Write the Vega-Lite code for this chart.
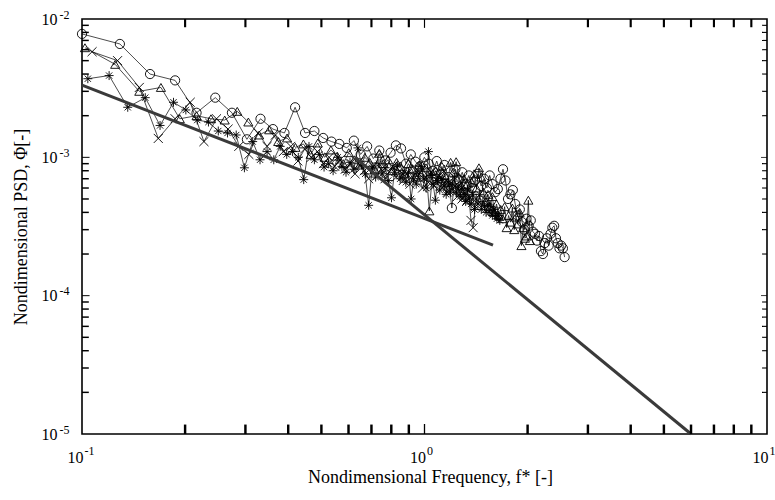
{
 "$schema": "https://vega.github.io/schema/vega-lite/v6.json",
 "width": 685, "height": 415,
 "autosize": {"type": "none"},
 "padding": {"left": 82, "top": 19, "right": 8, "bottom": 66},
 "background": "white",
 "config": {
  "view": {"stroke": "black", "strokeWidth": 1.6},
  "font": "Liberation Serif",
  "axis": {"domain": false, "ticks": false, "tickSize": 0, "grid": false, "labelColor": "black", "titleColor": "black", "labelFont": "Liberation Serif", "titleFont": "Liberation Serif", "titleFontWeight": "normal", "labelFontSize": 16, "titleFontSize": 18, "labelFlush": false, "labelOverlap": false}
 },
 "datasets": {
  "pts": [
   {"s":"o","f":0.100,"p":7.8e-3},{"s":"o","f":0.129,"p":6.6e-3},{"s":"o","f":0.158,"p":4.0e-3},{"s":"o","f":0.187,"p":3.6e-3},{"s":"o","f":0.216,"p":2.1e-3},{"s":"o","f":0.245,"p":2.7e-3},{"s":"o","f":0.274,"p":2.1e-3},{"s":"o","f":0.303,"p":1.35e-3},{"s":"o","f":0.332,"p":1.9e-3},{"s":"o","f":0.361,"p":1.6e-3},{"s":"o","f":0.390,"p":1.5e-3},{"s":"o","f":0.419,"p":2.3e-3},{"s":"o","f":0.448,"p":1.5e-3},{"s":"o","f":0.477,"p":1.55e-3},{"s":"o","f":0.506,"p":1.38e-3},{"s":"o","f":0.535,"p":1.3e-3},{"s":"o","f":0.564,"p":1.25e-3},{"s":"o","f":0.593,"p":1.17e-3},{"s":"o","f":0.622,"p":1.32e-3},{"s":"o","f":0.651,"p":1.05e-3},{"s":"o","f":0.680,"p":1.2e-3},{"s":"o","f":0.709,"p":9.8e-4},{"s":"o","f":0.738,"p":1.12e-3},{"s":"o","f":0.767,"p":9.5e-4},{"s":"o","f":0.796,"p":1.08e-3},{"s":"o","f":0.825,"p":1.22e-3},{"s":"o","f":0.854,"p":1.16e-3},{"s":"o","f":0.883,"p":9.0e-4},{"s":"o","f":0.912,"p":1.05e-3},{"s":"o","f":0.941,"p":9.3e-4},{"s":"o","f":0.970,"p":8.6e-4},{"s":"o","f":0.999,"p":1.0e-3},{"s":"o","f":1.028,"p":9.0e-4},{"s":"o","f":1.057,"p":8.0e-4},{"s":"o","f":1.086,"p":9.4e-4},{"s":"o","f":1.115,"p":7.6e-4},{"s":"o","f":1.144,"p":8.8e-4},{"s":"o","f":1.173,"p":7.2e-4},{"s":"o","f":1.202,"p":4.3e-4},{"s":"o","f":1.231,"p":8.2e-4},{"s":"o","f":1.260,"p":6.9e-4},{"s":"o","f":1.289,"p":7.8e-4},{"s":"o","f":1.318,"p":6.4e-4},{"s":"o","f":1.347,"p":7.4e-4},{"s":"o","f":1.376,"p":6.0e-4},{"s":"o","f":1.405,"p":6.8e-4},{"s":"o","f":1.434,"p":7.6e-4},{"s":"o","f":1.463,"p":6.2e-4},{"s":"o","f":1.492,"p":7.0e-4},{"s":"o","f":1.521,"p":6.0e-4},{"s":"o","f":1.550,"p":7.4e-4},{"s":"o","f":1.579,"p":6.4e-4},{"s":"o","f":1.608,"p":5.6e-4},{"s":"o","f":1.637,"p":5.9e-4},{"s":"o","f":1.666,"p":7.0e-4},{"s":"o","f":1.695,"p":8.2e-4},{"s":"o","f":1.724,"p":6.8e-4},{"s":"o","f":1.753,"p":5.0e-4},{"s":"o","f":1.782,"p":5.4e-4},{"s":"o","f":1.811,"p":5.8e-4},{"s":"o","f":1.840,"p":4.6e-4},{"s":"o","f":1.869,"p":3.8e-4},{"s":"o","f":1.898,"p":4.2e-4},{"s":"o","f":1.927,"p":3.4e-4},{"s":"o","f":1.956,"p":3.0e-4},{"s":"o","f":1.985,"p":3.6e-4},{"s":"o","f":2.014,"p":3.2e-4},{"s":"o","f":2.043,"p":3.5e-4},{"s":"o","f":2.072,"p":2.9e-4},{"s":"o","f":2.101,"p":2.8e-4},{"s":"o","f":2.130,"p":2.5e-4},{"s":"o","f":2.159,"p":2.7e-4},{"s":"o","f":2.188,"p":2.1e-4},{"s":"o","f":2.217,"p":2.0e-4},{"s":"o","f":2.246,"p":2.4e-4},{"s":"o","f":2.275,"p":2.6e-4},{"s":"o","f":2.304,"p":2.3e-4},{"s":"o","f":2.333,"p":2.8e-4},{"s":"o","f":2.362,"p":3.1e-4},{"s":"o","f":2.391,"p":3.2e-4},{"s":"o","f":2.420,"p":2.6e-4},{"s":"o","f":2.449,"p":2.4e-4},{"s":"o","f":2.478,"p":2.2e-4},{"s":"o","f":2.507,"p":2.3e-4},{"s":"o","f":2.536,"p":2.2e-4},{"s":"o","f":2.565,"p":1.9e-4},
   {"s":"t","f":0.102,"p":6.2e-3},{"s":"t","f":0.125,"p":4.7e-3},{"s":"t","f":0.147,"p":3.0e-3},{"s":"t","f":0.170,"p":3.2e-3},{"s":"t","f":0.193,"p":1.9e-3},{"s":"t","f":0.216,"p":2.0e-3},{"s":"t","f":0.238,"p":1.9e-3},{"s":"t","f":0.261,"p":1.86e-3},{"s":"t","f":0.284,"p":2.15e-3},{"s":"t","f":0.306,"p":1.8e-3},{"s":"t","f":0.329,"p":1.45e-3},{"s":"t","f":0.352,"p":1.58e-3},{"s":"t","f":0.374,"p":1.3e-3},{"s":"t","f":0.397,"p":1.38e-3},{"s":"t","f":0.420,"p":1.18e-3},{"s":"t","f":0.443,"p":1.25e-3},{"s":"t","f":0.465,"p":1.05e-3},{"s":"t","f":0.488,"p":1.27e-3},{"s":"t","f":0.511,"p":1.0e-3},{"s":"t","f":0.533,"p":1.13e-3},{"s":"t","f":0.556,"p":1.02e-3},{"s":"t","f":0.579,"p":9.0e-4},{"s":"t","f":0.601,"p":1.08e-3},{"s":"t","f":0.624,"p":9.6e-4},{"s":"t","f":0.647,"p":8.8e-4},{"s":"t","f":0.670,"p":1.0e-3},{"s":"t","f":0.692,"p":9.2e-4},{"s":"t","f":0.715,"p":8.2e-4},{"s":"t","f":0.738,"p":1.07e-3},{"s":"t","f":0.760,"p":9.0e-4},{"s":"t","f":0.783,"p":9.6e-4},{"s":"t","f":0.806,"p":8.0e-4},{"s":"t","f":0.829,"p":9.2e-4},{"s":"t","f":0.851,"p":8.6e-4},{"s":"t","f":0.874,"p":7.6e-4},{"s":"t","f":0.897,"p":9.0e-4},{"s":"t","f":0.919,"p":8.2e-4},{"s":"t","f":0.942,"p":7.2e-4},{"s":"t","f":0.965,"p":8.8e-4},{"s":"t","f":0.987,"p":7.8e-4},{"s":"t","f":1.010,"p":8.4e-4},{"s":"t","f":1.033,"p":4.1e-4},{"s":"t","f":1.055,"p":7.6e-4},{"s":"t","f":1.078,"p":8.0e-4},{"s":"t","f":1.101,"p":7.0e-4},{"s":"t","f":1.124,"p":8.6e-4},{"s":"t","f":1.146,"p":7.4e-4},{"s":"t","f":1.169,"p":6.6e-4},{"s":"t","f":1.192,"p":9.2e-4},{"s":"t","f":1.214,"p":7.8e-4},{"s":"t","f":1.237,"p":9.3e-4},{"s":"t","f":1.260,"p":7.2e-4},{"s":"t","f":1.282,"p":6.2e-4},{"s":"t","f":1.305,"p":7.0e-4},{"s":"t","f":1.328,"p":6.4e-4},{"s":"t","f":1.351,"p":5.6e-4},{"s":"t","f":1.373,"p":6.6e-4},{"s":"t","f":1.396,"p":7.6e-4},{"s":"t","f":1.419,"p":6.0e-4},{"s":"t","f":1.442,"p":8.4e-4},{"s":"t","f":1.464,"p":7.2e-4},{"s":"t","f":1.487,"p":5.6e-4},{"s":"t","f":1.510,"p":4.8e-4},{"s":"t","f":1.532,"p":5.4e-4},{"s":"t","f":1.555,"p":4.4e-4},{"s":"t","f":1.578,"p":5.2e-4},{"s":"t","f":1.600,"p":4.0e-4},{"s":"t","f":1.623,"p":4.6e-4},{"s":"t","f":1.646,"p":3.8e-4},{"s":"t","f":1.669,"p":4.2e-4},{"s":"t","f":1.691,"p":3.6e-4},{"s":"t","f":1.714,"p":4.4e-4},{"s":"t","f":1.737,"p":3.1e-4},{"s":"t","f":1.760,"p":3.8e-4},{"s":"t","f":1.782,"p":3.4e-4},{"s":"t","f":1.805,"p":4.3e-4},{"s":"t","f":1.828,"p":3.0e-4},{"s":"t","f":1.850,"p":3.7e-4},{"s":"t","f":1.873,"p":3.3e-4},{"s":"t","f":1.896,"p":4.0e-4},{"s":"t","f":1.919,"p":2.3e-4},{"s":"t","f":1.941,"p":3.1e-4},{"s":"t","f":1.964,"p":2.6e-4},{"s":"t","f":1.987,"p":2.7e-4},{"s":"t","f":2.010,"p":4.9e-4},{"s":"t","f":2.032,"p":2.5e-4},
   {"s":"a","f":0.104,"p":3.7e-3},{"s":"a","f":0.120,"p":3.9e-3},{"s":"a","f":0.136,"p":2.3e-3},{"s":"a","f":0.153,"p":2.7e-3},{"s":"a","f":0.169,"p":1.7e-3},{"s":"a","f":0.185,"p":2.5e-3},{"s":"a","f":0.201,"p":2.2e-3},{"s":"a","f":0.217,"p":1.86e-3},{"s":"a","f":0.234,"p":1.8e-3},{"s":"a","f":0.250,"p":1.55e-3},{"s":"a","f":0.266,"p":1.5e-3},{"s":"a","f":0.282,"p":1.45e-3},{"s":"a","f":0.298,"p":8.4e-4},{"s":"a","f":0.315,"p":1.3e-3},{"s":"a","f":0.331,"p":9.6e-4},{"s":"a","f":0.347,"p":1.1e-3},{"s":"a","f":0.363,"p":9.6e-4},{"s":"a","f":0.379,"p":1.2e-3},{"s":"a","f":0.396,"p":1.05e-3},{"s":"a","f":0.412,"p":1.1e-3},{"s":"a","f":0.428,"p":1.0e-3},{"s":"a","f":0.444,"p":6.9e-4},{"s":"a","f":0.460,"p":1.2e-3},{"s":"a","f":0.477,"p":9.6e-4},{"s":"a","f":0.493,"p":1.05e-3},{"s":"a","f":0.509,"p":8.5e-4},{"s":"a","f":0.525,"p":9.0e-4},{"s":"a","f":0.541,"p":8.0e-4},{"s":"a","f":0.558,"p":1.0e-3},{"s":"a","f":0.574,"p":8.6e-4},{"s":"a","f":0.590,"p":7.8e-4},{"s":"a","f":0.606,"p":9.2e-4},{"s":"a","f":0.622,"p":8.2e-4},{"s":"a","f":0.639,"p":1.17e-3},{"s":"a","f":0.655,"p":8.8e-4},{"s":"a","f":0.671,"p":7.6e-4},{"s":"a","f":0.687,"p":4.5e-4},{"s":"a","f":0.703,"p":8.4e-4},{"s":"a","f":0.720,"p":7.2e-4},{"s":"a","f":0.736,"p":9.0e-4},{"s":"a","f":0.752,"p":7.6e-4},{"s":"a","f":0.768,"p":8.4e-4},{"s":"a","f":0.784,"p":6.8e-4},{"s":"a","f":0.801,"p":5.1e-4},{"s":"a","f":0.817,"p":7.8e-4},{"s":"a","f":0.833,"p":8.8e-4},{"s":"a","f":0.849,"p":7.0e-4},{"s":"a","f":0.865,"p":7.6e-4},{"s":"a","f":0.882,"p":6.6e-4},{"s":"a","f":0.898,"p":7.8e-4},{"s":"a","f":0.914,"p":5.0e-4},{"s":"a","f":0.930,"p":7.0e-4},{"s":"a","f":0.946,"p":6.4e-4},{"s":"a","f":0.963,"p":7.6e-4},{"s":"a","f":0.979,"p":8.6e-4},{"s":"a","f":0.995,"p":7.0e-4},{"s":"a","f":1.011,"p":6.0e-4},{"s":"a","f":1.027,"p":1.1e-3},{"s":"a","f":1.044,"p":7.4e-4},{"s":"a","f":1.060,"p":6.4e-4},{"s":"a","f":1.076,"p":4.9e-4},{"s":"a","f":1.092,"p":6.8e-4},{"s":"a","f":1.108,"p":5.8e-4},{"s":"a","f":1.125,"p":7.0e-4},{"s":"a","f":1.141,"p":6.2e-4},{"s":"a","f":1.157,"p":5.4e-4},{"s":"a","f":1.173,"p":6.6e-4},{"s":"a","f":1.189,"p":5.6e-4},{"s":"a","f":1.206,"p":6.4e-4},{"s":"a","f":1.222,"p":7.2e-4},{"s":"a","f":1.238,"p":5.6e-4},{"s":"a","f":1.254,"p":6.2e-4},{"s":"a","f":1.270,"p":5.2e-4},{"s":"a","f":1.287,"p":6.0e-4},{"s":"a","f":1.303,"p":5.4e-4},{"s":"a","f":1.319,"p":4.8e-4},{"s":"a","f":1.335,"p":5.8e-4},{"s":"a","f":1.351,"p":5.0e-4},{"s":"a","f":1.368,"p":4.6e-4},{"s":"a","f":1.384,"p":5.4e-4},{"s":"a","f":1.400,"p":4.2e-4},{"s":"a","f":1.416,"p":5.0e-4},{"s":"a","f":1.432,"p":4.6e-4},{"s":"a","f":1.449,"p":5.4e-4},{"s":"a","f":1.465,"p":4.2e-4},{"s":"a","f":1.481,"p":4.8e-4},{"s":"a","f":1.497,"p":4.4e-4},{"s":"a","f":1.513,"p":4.0e-4},{"s":"a","f":1.530,"p":4.6e-4},{"s":"a","f":1.546,"p":4.0e-4},{"s":"a","f":1.562,"p":4.4e-4},{"s":"a","f":1.578,"p":3.8e-4},{"s":"a","f":1.594,"p":4.2e-4},{"s":"a","f":1.611,"p":3.9e-4},{"s":"a","f":1.627,"p":3.6e-4},{"s":"a","f":1.643,"p":3.8e-4},{"s":"a","f":1.659,"p":3.5e-4},
   {"s":"x","f":0.107,"p":5.8e-3},{"s":"x","f":0.127,"p":5.0e-3},{"s":"x","f":0.147,"p":3.2e-3},{"s":"x","f":0.167,"p":1.37e-3},{"s":"x","f":0.187,"p":1.9e-3},{"s":"x","f":0.207,"p":2.5e-3},{"s":"x","f":0.227,"p":1.3e-3},{"s":"x","f":0.247,"p":1.9e-3},{"s":"x","f":0.267,"p":1.6e-3},{"s":"x","f":0.287,"p":1.2e-3},{"s":"x","f":0.307,"p":1.05e-3},{"s":"x","f":0.327,"p":1.5e-3},{"s":"x","f":0.347,"p":1.2e-3},{"s":"x","f":0.367,"p":1.45e-3},{"s":"x","f":0.387,"p":1.1e-3},{"s":"x","f":0.407,"p":1.2e-3},{"s":"x","f":0.427,"p":9.4e-4},{"s":"x","f":0.447,"p":1.15e-3},{"s":"x","f":0.467,"p":1.0e-3},{"s":"x","f":0.487,"p":1.1e-3},{"s":"x","f":0.507,"p":9.0e-4},{"s":"x","f":0.527,"p":1.0e-3},{"s":"x","f":0.547,"p":8.6e-4},{"s":"x","f":0.567,"p":9.6e-4},{"s":"x","f":0.587,"p":8.2e-4},{"s":"x","f":0.607,"p":9.0e-4},{"s":"x","f":0.627,"p":7.6e-4},{"s":"x","f":0.647,"p":8.8e-4},{"s":"x","f":0.667,"p":8.0e-4},{"s":"x","f":0.687,"p":7.0e-4},{"s":"x","f":0.707,"p":8.6e-4},{"s":"x","f":0.727,"p":7.4e-4},{"s":"x","f":0.747,"p":8.2e-4},{"s":"x","f":0.767,"p":7.0e-4},{"s":"x","f":0.787,"p":7.8e-4},{"s":"x","f":0.807,"p":8.6e-4},{"s":"x","f":0.827,"p":7.2e-4},{"s":"x","f":0.847,"p":8.0e-4},{"s":"x","f":0.867,"p":6.8e-4},{"s":"x","f":0.887,"p":7.6e-4},{"s":"x","f":0.907,"p":6.4e-4},{"s":"x","f":0.927,"p":7.4e-4},{"s":"x","f":0.947,"p":8.2e-4},{"s":"x","f":0.967,"p":7.0e-4},{"s":"x","f":0.987,"p":6.0e-4},{"s":"x","f":1.007,"p":7.2e-4},{"s":"x","f":1.027,"p":6.6e-4},{"s":"x","f":1.047,"p":7.8e-4},{"s":"x","f":1.067,"p":6.2e-4},{"s":"x","f":1.087,"p":6.8e-4},{"s":"x","f":1.107,"p":7.4e-4},{"s":"x","f":1.127,"p":6.0e-4},{"s":"x","f":1.147,"p":6.6e-4},{"s":"x","f":1.167,"p":5.6e-4},{"s":"x","f":1.187,"p":6.4e-4},{"s":"x","f":1.207,"p":5.8e-4},{"s":"x","f":1.227,"p":6.2e-4},{"s":"x","f":1.247,"p":5.2e-4},{"s":"x","f":1.267,"p":5.8e-4},{"s":"x","f":1.287,"p":5.0e-4},{"s":"x","f":1.307,"p":5.6e-4},{"s":"x","f":1.327,"p":4.8e-4},{"s":"x","f":1.347,"p":5.2e-4},{"s":"x","f":1.367,"p":3.5e-4},{"s":"x","f":1.387,"p":3.1e-4},{"s":"x","f":1.407,"p":4.4e-4}
  ],
  "fit": [
   {"g":"a","f":0.1,"p":3.33e-3},{"g":"a","f":1.585,"p":2.32e-4},
   {"g":"b","f":0.625,"p":1.0e-3},{"g":"b","f":6.0,"p":1.0e-5}
  ],
  "ticks": [
   {"t":"bM","f":1,"p":1e-5},
   {"t":"bm","f":0.2,"p":1e-5},{"t":"bm","f":0.3,"p":1e-5},{"t":"bm","f":0.4,"p":1e-5},{"t":"bm","f":0.5,"p":1e-5},{"t":"bm","f":0.6,"p":1e-5},{"t":"bm","f":0.7,"p":1e-5},{"t":"bm","f":0.8,"p":1e-5},{"t":"bm","f":0.9,"p":1e-5},
   {"t":"bm","f":2,"p":1e-5},{"t":"bm","f":3,"p":1e-5},{"t":"bm","f":4,"p":1e-5},{"t":"bm","f":5,"p":1e-5},{"t":"bm","f":6,"p":1e-5},{"t":"bm","f":7,"p":1e-5},{"t":"bm","f":8,"p":1e-5},{"t":"bm","f":9,"p":1e-5},
   {"t":"tM","f":1,"p":1e-2},
   {"t":"tm","f":0.2,"p":1e-2},{"t":"tm","f":0.3,"p":1e-2},{"t":"tm","f":0.4,"p":1e-2},{"t":"tm","f":0.5,"p":1e-2},{"t":"tm","f":0.6,"p":1e-2},{"t":"tm","f":0.7,"p":1e-2},{"t":"tm","f":0.8,"p":1e-2},{"t":"tm","f":0.9,"p":1e-2},
   {"t":"tm","f":2,"p":1e-2},{"t":"tm","f":3,"p":1e-2},{"t":"tm","f":4,"p":1e-2},{"t":"tm","f":5,"p":1e-2},{"t":"tm","f":6,"p":1e-2},{"t":"tm","f":7,"p":1e-2},{"t":"tm","f":8,"p":1e-2},{"t":"tm","f":9,"p":1e-2},
   {"t":"lM","f":0.1,"p":1e-4},{"t":"lM","f":0.1,"p":1e-3},
   {"t":"lm","f":0.1,"p":2e-5},{"t":"lm","f":0.1,"p":3e-5},{"t":"lm","f":0.1,"p":4e-5},{"t":"lm","f":0.1,"p":5e-5},{"t":"lm","f":0.1,"p":6e-5},{"t":"lm","f":0.1,"p":7e-5},{"t":"lm","f":0.1,"p":8e-5},{"t":"lm","f":0.1,"p":9e-5},
   {"t":"lm","f":0.1,"p":2e-4},{"t":"lm","f":0.1,"p":3e-4},{"t":"lm","f":0.1,"p":4e-4},{"t":"lm","f":0.1,"p":5e-4},{"t":"lm","f":0.1,"p":6e-4},{"t":"lm","f":0.1,"p":7e-4},{"t":"lm","f":0.1,"p":8e-4},{"t":"lm","f":0.1,"p":9e-4},
   {"t":"lm","f":0.1,"p":2e-3},{"t":"lm","f":0.1,"p":3e-3},{"t":"lm","f":0.1,"p":4e-3},{"t":"lm","f":0.1,"p":5e-3},{"t":"lm","f":0.1,"p":6e-3},{"t":"lm","f":0.1,"p":7e-3},{"t":"lm","f":0.1,"p":8e-3},{"t":"lm","f":0.1,"p":9e-3},
   {"t":"rM","f":10,"p":1e-4},{"t":"rM","f":10,"p":1e-3},
   {"t":"rm","f":10,"p":2e-5},{"t":"rm","f":10,"p":3e-5},{"t":"rm","f":10,"p":4e-5},{"t":"rm","f":10,"p":5e-5},{"t":"rm","f":10,"p":6e-5},{"t":"rm","f":10,"p":7e-5},{"t":"rm","f":10,"p":8e-5},{"t":"rm","f":10,"p":9e-5},
   {"t":"rm","f":10,"p":2e-4},{"t":"rm","f":10,"p":3e-4},{"t":"rm","f":10,"p":4e-4},{"t":"rm","f":10,"p":5e-4},{"t":"rm","f":10,"p":6e-4},{"t":"rm","f":10,"p":7e-4},{"t":"rm","f":10,"p":8e-4},{"t":"rm","f":10,"p":9e-4},
   {"t":"rm","f":10,"p":2e-3},{"t":"rm","f":10,"p":3e-3},{"t":"rm","f":10,"p":4e-3},{"t":"rm","f":10,"p":5e-3},{"t":"rm","f":10,"p":6e-3},{"t":"rm","f":10,"p":7e-3},{"t":"rm","f":10,"p":8e-3},{"t":"rm","f":10,"p":9e-3}
  ]
 },
 "layer": [
  {
   "data": {"name": "pts"},
   "mark": {"type": "line", "color": "black", "strokeWidth": 0.7},
   "encoding": {
    "x": {"field": "f", "type": "quantitative", "scale": {"type": "log", "domain": [0.1, 10], "nice": false},
     "axis": {"orient": "bottom", "values": [0.1, 1, 10], "labelPadding": 15, "labelAlign": "right", "labelOffset": 1, "labelBaseline": "top", "labelExpr": "'10'", "title": "Nondimensional Frequency, f* [-]", "titleX": 348, "titleY": 48, "titleAlign": "center", "titleBaseline": "alphabetic"}},
    "y": {"field": "p", "type": "quantitative", "scale": {"type": "log", "domain": [1e-5, 1e-2], "nice": false},
     "axis": {"orient": "left", "values": [1e-5, 1e-4, 1e-3, 1e-2], "labelPadding": 25, "labelAlign": "right", "labelBaseline": "middle", "labelExpr": "'10'", "title": "Nondimensional PSD, Φ[-]", "titleX": -56, "titleY": 207.5, "titleAlign": "center", "titleBaseline": "alphabetic", "titleAngle": 270}},
    "detail": {"field": "s", "type": "nominal"}
   }
  },
  {
   "data": {"name": "pts"},
   "mark": {"type": "point", "filled": false, "color": "black", "strokeWidth": 0.9, "opacity": 1},
   "encoding": {
    "x": {"field": "f", "type": "quantitative", "scale": {"type": "log", "domain": [0.1, 10], "nice": false}, "axis": null},
    "y": {"field": "p", "type": "quantitative", "scale": {"type": "log", "domain": [1e-5, 1e-2], "nice": false}, "axis": null},
    "shape": {"field": "s", "type": "nominal", "legend": null, "scale": {"domain": ["o", "t", "x", "a"], "range": ["circle", "triangle-up", "M-1,-1L1,1M-1,1L1,-1", "M-1,0L1,0M0,-1L0,1M-0.7,-0.7L0.7,0.7M-0.7,0.7L0.7,-0.7"]}},
    "size": {"field": "s", "type": "nominal", "legend": null, "scale": {"domain": ["o", "t", "x", "a"], "range": [85, 80, 80, 110]}}
   }
  },
  {
   "data": {"name": "fit"},
   "mark": {"type": "line", "color": "#3a3a3a", "strokeWidth": 3},
   "encoding": {
    "x": {"field": "f", "type": "quantitative", "scale": {"type": "log", "domain": [0.1, 10], "nice": false},
     "axis": {"orient": "bottom", "values": [0.1, 1, 10], "labelFontSize": 12, "labelPadding": 11, "labelAlign": "left", "labelOffset": 2, "labelBaseline": "top", "labelExpr": "datum.value < 0.5 ? '-1' : datum.value < 5 ? '0' : '1'", "title": null}},
    "y": {"field": "p", "type": "quantitative", "scale": {"type": "log", "domain": [1e-5, 1e-2], "nice": false},
     "axis": {"orient": "left", "values": [1e-5, 1e-4, 1e-3, 1e-2], "labelFontSize": 12, "labelPadding": 13, "labelAlign": "right", "labelOffset": -5, "labelBaseline": "middle", "labelExpr": "datum.value > 0.005 ? '-2' : datum.value > 0.0005 ? '-3' : datum.value > 0.00005 ? '-4' : '-5'", "title": null}},
    "detail": {"field": "g", "type": "nominal"}
   }
  },
  {
   "data": {"name": "ticks"},
   "mark": {"type": "point", "filled": true, "color": "black", "strokeWidth": 0, "opacity": 1},
   "encoding": {
    "x": {"field": "f", "type": "quantitative", "scale": {"type": "log", "domain": [0.1, 10], "nice": false}, "axis": null},
    "y": {"field": "p", "type": "quantitative", "scale": {"type": "log", "domain": [1e-5, 1e-2], "nice": false}, "axis": null},
    "shape": {"field": "t", "type": "nominal", "legend": null, "scale": {"domain": ["bM", "bm", "tM", "tm", "lM", "lm", "rM", "rm"], "range": ["M-0.065,0L0.065,0L0.065,-1L-0.065,-1Z", "M-0.13,0L0.13,0L0.13,-1L-0.13,-1Z", "M-0.065,0L0.065,0L0.065,1L-0.065,1Z", "M-0.13,0L0.13,0L0.13,1L-0.13,1Z", "M0,-0.065L1,-0.065L1,0.065L0,0.065Z", "M0,-0.108L1,-0.108L1,0.108L0,0.108Z", "M0,-0.065L-1,-0.065L-1,0.065L0,0.065Z", "M0,-0.108L-1,-0.108L-1,0.108L0,0.108Z"]}},
    "size": {"field": "t", "type": "nominal", "legend": null, "scale": {"domain": ["bM", "bm", "tM", "tm", "lM", "lm", "rM", "rm"], "range": [400, 100, 400, 100, 400, 144, 400, 144]}}
   }
  }
 ],
 "resolve": {"scale": {"shape": "independent", "size": "independent"}, "axis": {"x": "independent", "y": "independent"}}
}
